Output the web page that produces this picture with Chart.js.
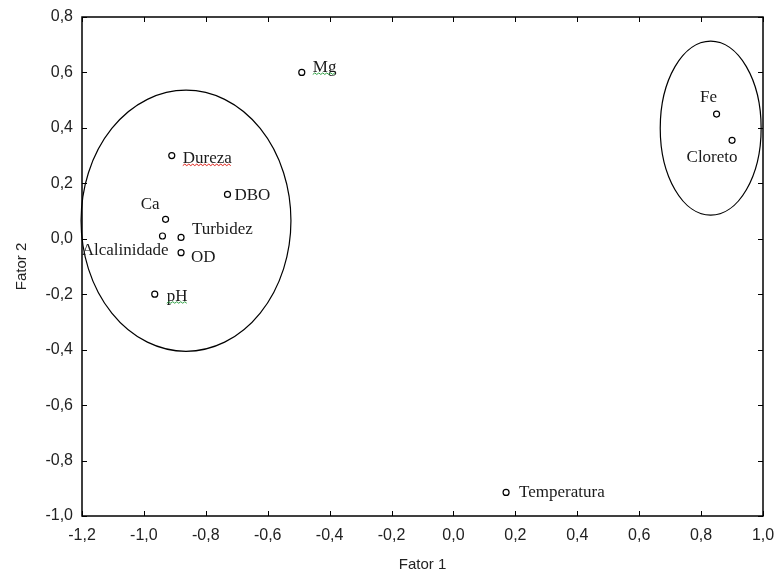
<!DOCTYPE html>
<html>
<head>
<meta charset="utf-8">
<script src="https://cdn.jsdelivr.net/npm/chart.js@4.4.0/dist/chart.umd.min.js"></script>
<style>
  html, body { margin: 0; padding: 0; background: #fff; }
  #wrap { width: 776px; height: 573px; position: relative; }
</style>
</head>
<body>
<div id="wrap"><canvas id="factorChart"></canvas></div>
<script>
// variables and their loadings
const variables = ['Mg', 'Dureza', 'DBO', 'Ca', 'Alcalinidade', 'Turbidez', 'OD', 'pH', 'Fe', 'Cloreto', 'Temperatura'];
const fator1 = [-0.49, -0.91, -0.73, -0.93, -0.94, -0.88, -0.88, -0.965, 0.85, 0.90, 0.17];
const fator2 = [0.60, 0.30, 0.16, 0.07, 0.01, 0.005, -0.05, -0.20, 0.45, 0.355, -0.915];

// axis ranges / tick labels
const xTicks = [-1.2, -1.0, -0.8, -0.6, -0.4, -0.2, 0.0, 0.2, 0.4, 0.6, 0.8, 1.0];
const yTicks = [-1.0, -0.8, -0.6, -0.4, -0.2, 0.0, 0.2, 0.4, 0.6, 0.8];

// groups drawn as ellipses (centre x, centre y, radius x, radius y in factor units)
const groupCx = [-0.864, 0.831];
const groupCy = [0.065, 0.399];
const groupRx = [0.339, 0.163];
const groupRy = [0.471, 0.314];

// label placement in pixels relative to the point
const labelPlacement = {
    'Mg':           { dx: 11,  dy: -5,  align: 'left',   squiggle: '#2ea043' },
    'Dureza':       { dx: 11,  dy: 3,   align: 'left',   squiggle: '#e0201a' },
    'DBO':          { dx: 7,   dy: 1,   align: 'left' },
    'Ca':           { dx: -6,  dy: -15, align: 'right' },
    'Alcalinidade': { dx: 6,   dy: 15,  align: 'right' },
    'Turbidez':     { dx: 11,  dy: -8,  align: 'left' },
    'OD':           { dx: 10,  dy: 5,   align: 'left' },
    'pH':           { dx: 12,  dy: 2,   align: 'left',   squiggle: '#2ea043' },
    'Fe':           { dx: -8,  dy: -16, align: 'center' },
    'Cloreto':      { dx: -20, dy: 17,  align: 'center' },
    'Temperatura':  { dx: 13,  dy: 0,   align: 'left' }
};

const fmt = v => {
    if (Math.abs(v) < 1e-9) return '0,0';
    return v.toFixed(1).replace('.', ',');
};

const points = variables.map((v, i) => ({ x: fator1[i], y: fator2[i] }));

// frame with inside ticks, ellipses and point labels
const decorPlugin = {
    id: 'decor',
    afterDatasetsDraw(chart) {
        const { ctx, chartArea: a, scales: { x, y } } = chart;
        ctx.save();
        ctx.strokeStyle = '#000';
        ctx.lineWidth = 1.5;
        ctx.strokeRect(a.left, a.top, a.right - a.left, a.bottom - a.top);
        ctx.lineWidth = 1;
        ctx.beginPath();
        xTicks.forEach(t => {
            const px = Math.round(x.getPixelForValue(t)) + 0.5;
            ctx.moveTo(px, a.bottom); ctx.lineTo(px, a.bottom - 5);
            ctx.moveTo(px, a.top); ctx.lineTo(px, a.top + 5);
        });
        yTicks.forEach(t => {
            const py = Math.round(y.getPixelForValue(t)) + 0.5;
            ctx.moveTo(a.left, py); ctx.lineTo(a.left + 5, py);
            ctx.moveTo(a.right, py); ctx.lineTo(a.right - 5, py);
        });
        ctx.stroke();

        // ellipses
        ctx.lineWidth = 1.2;
        groupCx.forEach((cx, i) => {
            const px = x.getPixelForValue(cx);
            const py = y.getPixelForValue(groupCy[i]);
            const rx = Math.abs(x.getPixelForValue(cx + groupRx[i]) - px);
            const ry = Math.abs(y.getPixelForValue(groupCy[i] + groupRy[i]) - py);
            ctx.beginPath();
            ctx.ellipse(px, py, rx, ry, 0, 0, Math.PI * 2);
            ctx.stroke();
        });

        // labels
        ctx.font = '17px "Liberation Serif", "Times New Roman", serif';
        ctx.fillStyle = '#1a1a1a';
        ctx.textBaseline = 'middle';
        variables.forEach((name, i) => {
            const p = labelPlacement[name];
            const px = x.getPixelForValue(fator1[i]) + p.dx;
            const py = y.getPixelForValue(fator2[i]) + p.dy;
            ctx.textAlign = p.align;
            ctx.fillText(name, px, py);
            if (p.squiggle) {
                const w = ctx.measureText(name).width;
                let x0 = p.align === 'left' ? px : p.align === 'right' ? px - w : px - w / 2;
                const yb = py + 7;
                ctx.strokeStyle = p.squiggle;
                ctx.lineWidth = 1;
                ctx.beginPath();
                let up = true;
                ctx.moveTo(x0, yb);
                for (let xx = x0 + 2; xx <= x0 + w; xx += 2) {
                    ctx.lineTo(xx, up ? yb - 1.5 : yb);
                    up = !up;
                }
                ctx.stroke();
                ctx.strokeStyle = '#000';
            }
        });
        ctx.restore();
    }
};

const ctxFactor = document.getElementById('factorChart').getContext('2d');
new Chart(ctxFactor, {
    type: 'scatter',
    data: {
        datasets: [{
            data: points,
            pointStyle: 'circle',
            pointRadius: 3,
            pointBorderWidth: 1.2,
            pointBorderColor: '#000',
            pointBackgroundColor: '#fff'
        }]
    },
    options: {
        responsive: true,
        maintainAspectRatio: false,
        animation: false,
        layout: { padding: { left: 0, right: 13, top: 17, bottom: 0 } },
        plugins: {
            legend: { display: false },
            tooltip: { enabled: false }
        },
        scales: {
            x: {
                type: 'linear',
                min: xTicks[0],
                max: xTicks[xTicks.length - 1],
                afterBuildTicks: s => { s.ticks = xTicks.map(v => ({ value: v })); },
                afterFit: s => { s.height = 57; s.paddingLeft = 0; s.paddingRight = 0; },
                grid: { display: false, drawTicks: false },
                border: { display: false },
                ticks: {
                    color: '#222',
                    padding: 10,
                    maxRotation: 0,
                    font: { family: '"Liberation Sans", Arial, sans-serif', size: 16 },
                    callback: v => fmt(v)
                },
                title: {
                    display: true,
                    text: 'Fator 1',
                    color: '#222',
                    font: { family: '"Liberation Sans", Arial, sans-serif', size: 15, lineHeight: 1 },
                    padding: { top: 0, bottom: 1 }
                }
            },
            y: {
                type: 'linear',
                min: yTicks[0],
                max: yTicks[yTicks.length - 1],
                afterBuildTicks: s => { s.ticks = yTicks.map(v => ({ value: v })); },
                afterFit: s => { s.width = 82; s.paddingTop = 0; s.paddingBottom = 0; },
                grid: { display: false, drawTicks: false },
                border: { display: false },
                ticks: {
                    color: '#222',
                    padding: 9,
                    font: { family: '"Liberation Sans", Arial, sans-serif', size: 16 },
                    callback: v => fmt(v)
                },
                title: {
                    display: true,
                    text: 'Fator 2',
                    color: '#222',
                    font: { family: '"Liberation Sans", Arial, sans-serif', size: 15, lineHeight: 1 },
                    padding: { top: 14, bottom: 0 }
                }
            }
        }
    },
    plugins: [decorPlugin]
});
</script>
</body>
</html>
